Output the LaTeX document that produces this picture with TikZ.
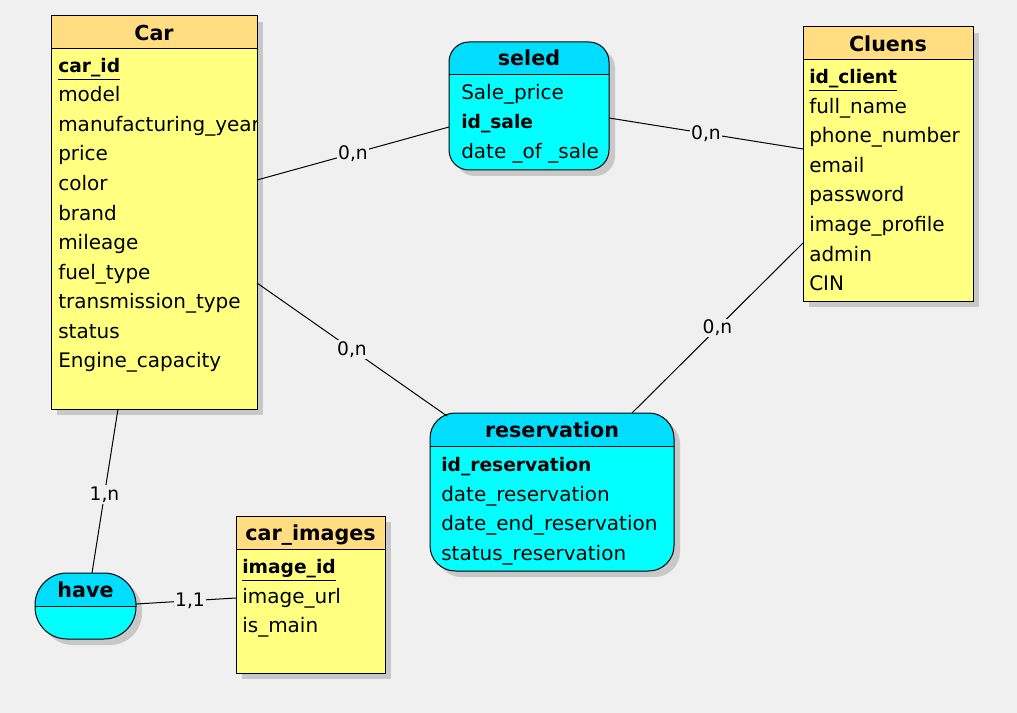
\documentclass[tikz,border=0pt]{standalone}
\usepackage{fontspec}
\setmainfont{DejaVu Sans}
\definecolor{bgcol}{RGB}{240,240,240}
\definecolor{entbody}{RGB}{255,255,128}
\definecolor{enthead}{RGB}{255,221,128}
\definecolor{relbody}{RGB}{0,255,255}
\definecolor{relhead}{RGB}{0,221,255}
\definecolor{shadowcol}{RGB}{200,200,200}

\tikzset{
  attr/.style={anchor=base west, inner sep=0pt, font=\fontsize{15}{18}\selectfont},
  keyattr/.style={anchor=base west, inner sep=0pt, font=\bfseries\fontsize{14}{18}\selectfont},
  title/.style={anchor=base, inner sep=0pt, font=\bfseries\fontsize{15.5}{18}\selectfont},
  card/.style={fill=bgcol, inner sep=1pt, font=\fontsize{14}{18}\selectfont},
  link/.style={draw, line width=0.75pt},
}

% entity: name, x1, y1, x2, y2, title
\newcommand{\entbox}[6]{%
  \fill[shadowcol] (#2+6,#3+6) rectangle (#4+6,#5+6);
  \draw[line width=0.75pt, fill=entbody] (#2,#3) rectangle (#4,#5);
  \draw[line width=0.75pt, fill=enthead] (#2,#3) rectangle (#4,#3+33);
  \node[title] (#1) at ({(#2+#4)/2},#3+24.5) {#6};
}
% relation: name, x1, y1, x2, y2, title, radius
\newcommand{\relbox}[7]{%
  \fill[shadowcol, rounded corners=#7] (#2+6,#3+6) rectangle (#4+6,#5+6);
  \begin{scope}
    \clip[rounded corners=#7] (#2,#3) rectangle (#4,#5);
    \fill[relbody] (#2,#3) rectangle (#4,#5);
    \fill[relhead] (#2,#3) rectangle (#4,#3+33);
    \draw[line width=0.75pt] (#2,#3+33) -- (#4,#3+33);
  \end{scope}
  \draw[line width=0.75pt, rounded corners=#7] (#2,#3) rectangle (#4,#5);
  \node[title] (#1) at ({(#2+#4)/2},#3+24) {#6};
}

\begin{document}
\begin{tikzpicture}[x=0.75pt, y=-0.75pt]
  \useasboundingbox[fill=bgcol] (0,0) rectangle (1017,713);

  % Car
  \entbox{car}{51}{16}{257}{409}{Car}
  \begin{scope}
    \clip (51,50) rectangle (256.5,408);
    \node[keyattr] (car-0) at (58,72.5) {\underline{car\_id}};
    \foreach \a [count=\i] in {model, manufacturing\_year, price, color, brand,
      mileage, fuel\_type, transmission\_type, status, Engine\_capacity}
      \node[attr] (car-\i) at (58,72.5+29.5*\i) {\a};
  \end{scope}

  % Cluens
  \entbox{cluens}{803}{27}{973}{301}{Cluens}
  \node[keyattr] (cl-0) at (809,83.5) {\underline{id\_client}};
  \foreach \a [count=\i] in {full\_name, phone\_number, email, password,
    image\_profile, admin, CIN}
    \node[attr] (cl-\i) at (809,83.5+29.6*\i) {\a};

  % car_images
  \entbox{images}{236}{516}{385}{673}{car\_images}
  \node[keyattr] (im-0) at (242,573.5) {\underline{image\_id}};
  \node[attr] (im-1) at (242,603) {image\_url};
  \node[attr] (im-2) at (242,632.5) {is\_main};

  % seled
  \relbox{seled}{449}{42}{609}{170}{seled}{15pt}
  \node[attr] (se-1) at (461,99.5) {Sale\_price};
  \node[keyattr] (se-2) at (461,129) {id\_sale};
  \node[attr] (se-3) at (461,158.5) {date \_of \_sale};

  % reservation
  \relbox{resa}{430}{413}{674}{571}{reservation}{19pt}
  \node[keyattr] (re-0) at (441,471.5) {id\_reservation};
  \foreach \a [count=\i] in {date\_reservation, date\_end\_reservation,
    status\_reservation}
    \node[attr] (re-\i) at (441,471.5+29.5*\i) {\a};

  % have
  \relbox{have}{35}{573}{136}{639}{have}{24pt}

  % connectors
  \coordinate (car-e1) at (257,180);
  \coordinate (car-e2) at (257,283);
  \coordinate (car-s) at (118,409);
  \coordinate (seled-w) at (449,127);
  \coordinate (seled-e) at (609,118);
  \coordinate (cluens-w1) at (803,149);
  \coordinate (cluens-w2) at (803,243);
  \coordinate (resa-nw) at (447,416);
  \coordinate (resa-ne) at (632,413);
  \coordinate (have-n) at (92,573);
  \coordinate (have-e) at (136,604);
  \coordinate (img-w) at (236,598);

  \draw[link] (car-e1) -- node[card] (c1) {0,n} (seled-w);
  \draw[link] (seled-e) -- node[card] (c2) {0,n} (cluens-w1);
  \draw[link] (car-e2) -- node[card] (c3) {0,n} (resa-nw);
  \draw[link] (cluens-w2) -- node[card] (c4) {0,n} (resa-ne);
  \draw[link] (car-s) -- node[card, pos=0.52] (c5) {1,n} (have-n);
  \draw[link] (have-e) -- node[card, pos=0.54] (c6) {1,1} (img-w);
\end{tikzpicture}
\end{document}
